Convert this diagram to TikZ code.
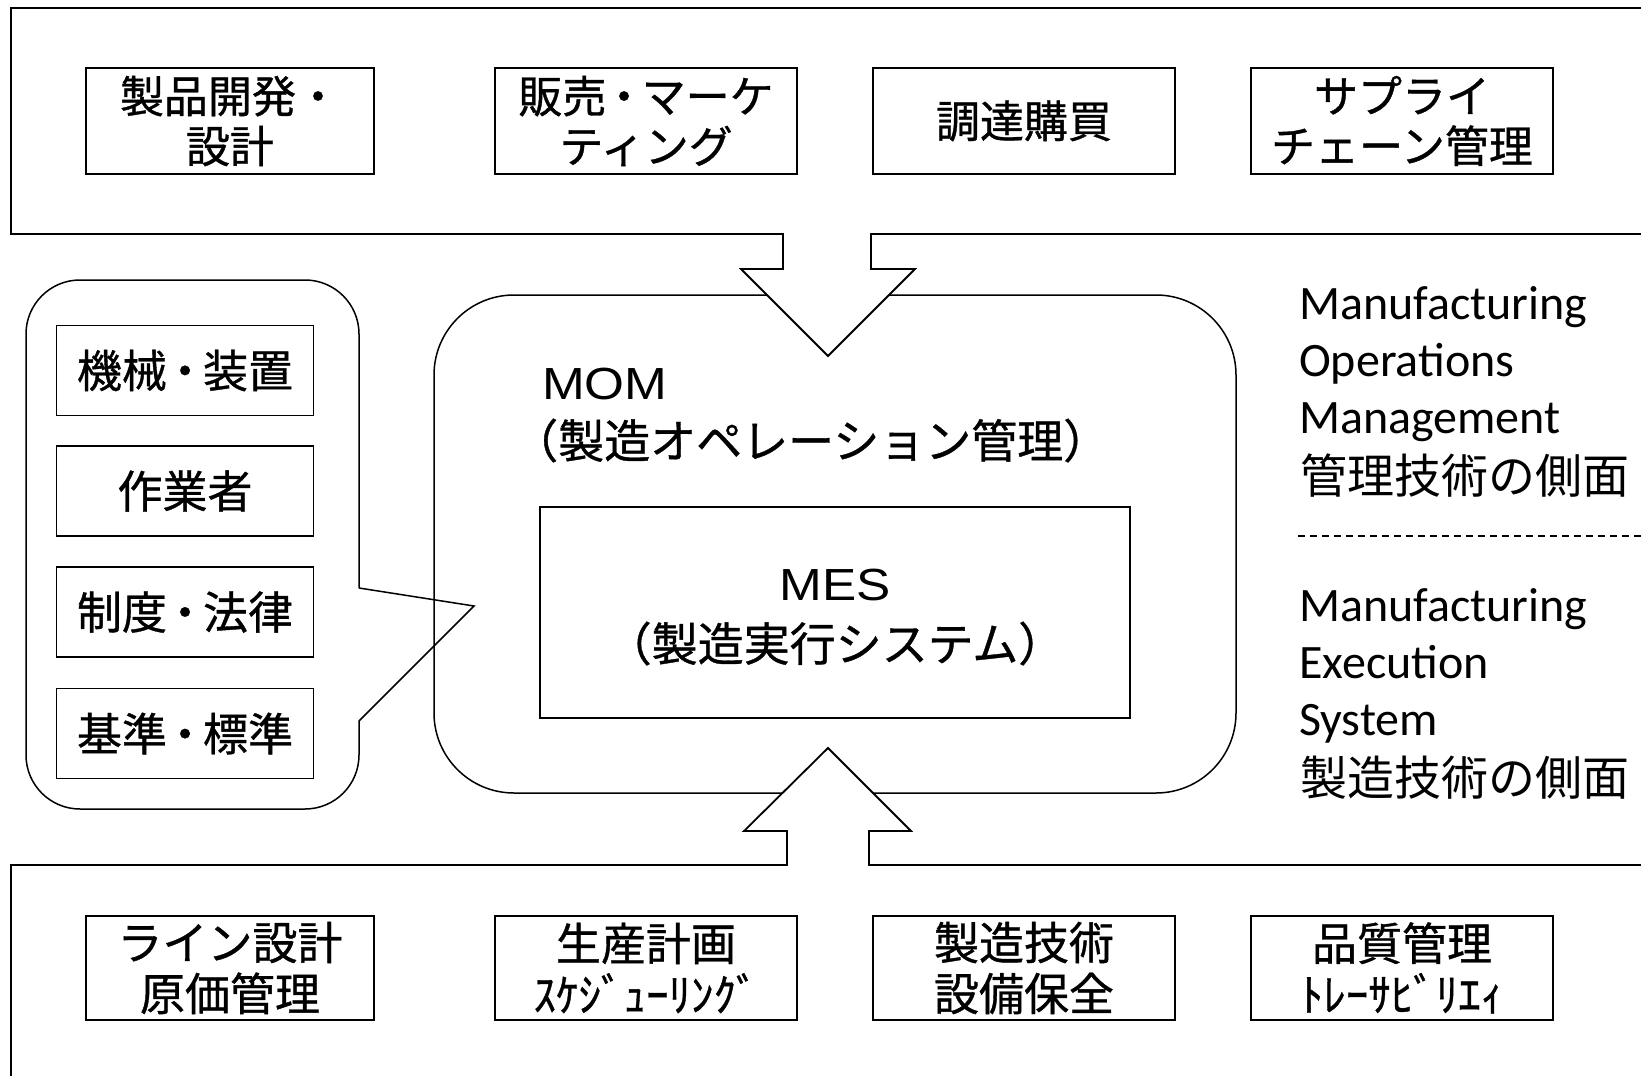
\documentclass[tikz,border=0pt]{standalone}
\usepackage{fontspec}
\setmainfont{Carlito}
\newfontfamily\jpfont[FakeBold=0.8]{Noto Sans CJK JP}
\newfontfamily\jpregfont{Noto Sans CJK JP}
\newfontfamily\arlfont[FakeStretch=1.14]{Liberation Sans}
\newfontfamily\calfont{Carlito}
\newcommand\ndot{\makebox[0.8em][c]{・}}
\tikzset{
  outer/.style={line width=1.8pt, line join=miter, fill=white},
  thin/.style={line width=1.5pt},
  cbox/.style={draw, line width=1.6pt, inner sep=0pt, align=center,
    font=\jpfont\fontsize{44}{50}\selectfont},
  topbox/.style={cbox, minimum height=106pt},
  botbox/.style={cbox, minimum height=104pt, font=\jpfont\fontsize{45}{51}\selectfont},
  leftbox/.style={cbox, minimum width=257pt, minimum height=90pt,
    font=\jpfont\fontsize{45}{50}\selectfont},
  rtxt/.style={anchor=base west, inner sep=0pt, font=\calfont\fontsize{48}{57}\selectfont},
  rjp/.style={anchor=base west, inner sep=0pt, font=\jpregfont\fontsize{47}{57}\selectfont},
  momtxt/.style={inner sep=0pt, font=\arlfont\fontsize{45}{50}\selectfont},
  momjp/.style={inner sep=0pt, font=\jpfont\fontsize{46}{50}\selectfont},
}
\begin{document}
\begin{tikzpicture}[x=1pt,y=-1pt]
\useasboundingbox (0,0) rectangle (1641,1076);
\fill[white] (0,0) rectangle (1641,1076);

% callout
\coordinate (cA) at (359,588);
\coordinate (cTip) at (474,606);
\coordinate (cB) at (359,721);
\draw[thin, rounded corners=54pt] (cA) -- (359,280) -- (26,280) -- (26,809) -- (359,809) -- (cB);
\draw[thin, line join=miter] (cA) -- (cTip) -- (cB);

% MOM and MES
\draw[thin, rounded corners=80pt] (434,295) rectangle (1236,793);
\draw[thin] (540,507) rectangle (1130,718);

% top frame with down arrow
\draw[outer] (1700,8) -- (11,8) -- (11,234) -- (783,234) -- (783,269) -- (741,269)
  -- (828,356) -- (915,269) -- (871,269) -- (871,234) -- (1700,234);
% bottom frame with up arrow
\draw[outer] (1700,865) -- (869,865) -- (869,831) -- (911,831) -- (828,748)
  -- (744,831) -- (787,831) -- (787,865) -- (11,865) -- (11,1100);

% top boxes
\node[topbox, minimum width=288pt] (t1) at (230,121) {製品開発・\\設計};
\node[topbox, minimum width=302pt] (t2) at (646,121) {販売\ndot マーケ\\ティング};
\node[topbox, minimum width=302pt] (t3) at (1024,121) {調達購買};
\node[topbox, minimum width=302pt] (t4) at (1402,121) {サプライ\\チェーン管理};

% bottom boxes
\node[botbox, minimum width=288pt] (b1) at (230,968) {ライン設計\\原価管理};
\node[botbox, minimum width=302pt] (b2) at (646,968) {生産計画\\ｽｹｼﾞｭｰﾘﾝｸﾞ};
\node[botbox, minimum width=302pt] (b3) at (1024,968) {製造技術\\設備保全};
\node[botbox, minimum width=302pt] (b4) at (1402,968) {品質管理\\ﾄﾚｰｻﾋﾞﾘｴｨ};

% left boxes
\node[leftbox] (l1) at (185,370.5) {機械\ndot 装置};
\node[leftbox] (l2) at (185,491) {作業者};
\node[leftbox] (l3) at (185,612) {制度\ndot 法律};
\node[leftbox] (l4) at (185,733.5) {基準\ndot 標準};

% MOM / MES texts
\node[momtxt, anchor=base west] (mom) at (542,399) {MOM};
\node[momjp, anchor=base west] (momj) at (512,458) {（製造オペレーション管理）};
\node[momtxt, anchor=base] (mes) at (835,600) {MES};
\node[momjp, anchor=base] (mesj) at (835,661) {（製造実行システム）};

% right texts
\node[rtxt] (r1) at (1299,319) {Manufacturing};
\node[rtxt] (r2) at (1299,376) {Operations};
\node[rtxt] (r3) at (1299,433) {Management};
\node[rjp] (r4) at (1300,493) {管理技術の側面};
\coordinate (dL) at (1298,536);
\coordinate (dR) at (1660,536);
\draw[line width=1.2pt, dash pattern=on 7pt off 5pt] (dL) -- (dR);
\node[rtxt] (r5) at (1299,621) {Manufacturing};
\node[rtxt] (r6) at (1299,678) {Execution};
\node[rtxt] (r7) at (1299,735) {System};
\node[rjp] (r8) at (1300,795) {製造技術の側面};
\end{tikzpicture}
\end{document}
